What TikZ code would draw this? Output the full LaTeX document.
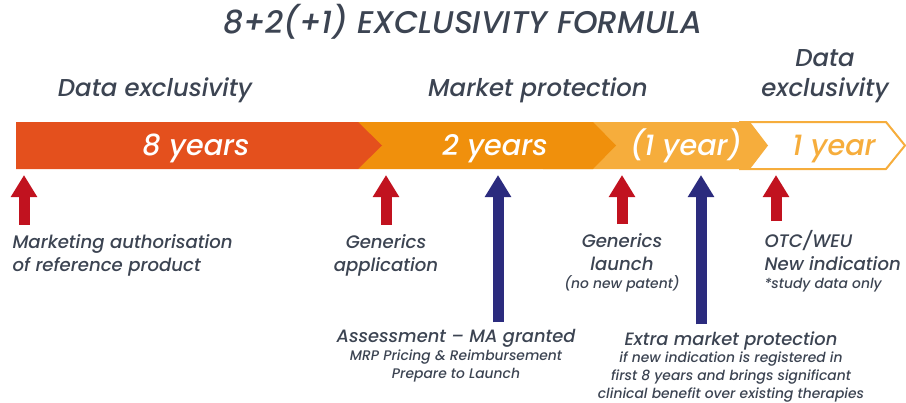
\documentclass[tikz,border=0pt]{standalone}
\usepackage{fontspec}
\setmainfont{Poppins}[ItalicFont={Poppins Medium Italic}]
\usetikzlibrary{arrows.meta}

\definecolor{txtgray}{HTML}{3C4452}
\definecolor{barred}{HTML}{E4501D}
\definecolor{barorange}{HTML}{F0900C}
\definecolor{barlight}{HTML}{F6AD3C}
\definecolor{arrred}{HTML}{C1121F}
\definecolor{arrblue}{HTML}{2B2B7E}

\newcommand{\smalltxtfont}{\itshape\fontsize{10.4}{13}\selectfont}

\tikzset{every picture/.style={line width=0.75pt}}
\tikzset{
  lbl/.style={inner sep=0pt, text=txtgray, font=\itshape\fontsize{13.6}{17.25}\selectfont},
  biglbl/.style={inner sep=0pt, text=txtgray, font=\itshape\fontsize{13.4}{13.2}\selectfont},
  head/.style={inner sep=0pt, text=txtgray, font=\itshape\fontsize{18.3}{22}\selectfont},
  baryears/.style={inner sep=0pt, text=white, font=\itshape\fontsize{21.5}{24}\selectfont},
  upred/.style={draw=arrred, line width=8.25pt, shorten <=6.5pt, -{Triangle[length=16.5pt,width=18.75pt]}},
  upblue/.style={draw=arrblue, line width=8.25pt, shorten <=5pt, -{Triangle[length=16.5pt,width=18.75pt]}},
}

\begin{document}
\begin{tikzpicture}[x=0.75pt,y=0.75pt,yscale=-1,xscale=1]
\useasboundingbox (0,0) rectangle (906,403);

%Shape: Outlined chevron [id:dp1]
\draw [draw=barlight, fill=white, line width=1.5pt] (740,122) -- (886,122) -- (905,145.5) -- (886,169) -- (740,169) -- cycle ;
%Shape: Light chevron [id:dp2]
\fill [barlight] (543,122) -- (750,122) -- (768,145.5) -- (750,169) -- (543,169) -- cycle ;
%Shape: Orange chevron [id:dp3]
\fill [barorange] (358,122) -- (593,122) -- (616,145.5) -- (593,169) -- (358,169) -- cycle ;
%Shape: Red block [id:dp4]
\fill [barred] (16,122) -- (358,122) -- (382,145.5) -- (358,169) -- (16,169) -- cycle ;

% Text Node
\node (title) at (463,34) [anchor=base, inner sep=0pt, text=txtgray, font=\itshape\fontsize{23.5}{28}\selectfont] {8+2(+1) EXCLUSIVITY FORMULA};
% Text Node
\node (hdata) at (155,96) [anchor=base, head] {Data exclusivity};
% Text Node
\node (hmarket) at (538,96) [anchor=base, head] {Market protection};
% Text Node
\node (hdata2) at (825,96) [anchor=base, head, align=center] {Data\\exclusivity};

% Text Node
\node (yr8) at (196,155) [anchor=base, baryears] {8 years};
% Text Node
\node (yr2) at (495,155) [anchor=base, baryears] {2 years};
% Text Node
\node (yr1) at (686,155) [anchor=base, baryears] {(1 year)};
% Text Node
\node (yrx) at (834,155) [anchor=base, baryears, text=barlight] {1 year};

% Text Node
\node (ma) at (12,271) [anchor=base west, lbl, align=left] {Marketing authorisation\\of reference product};
% Text Node
\node (gapp) at (386,271) [anchor=base, lbl, align=center] {Generics\\application};
% Text Node
\node (glaunch) at (622,288) [anchor=base, lbl, align=center] {Generics\\launch\\[-4pt]{\smalltxtfont (no new patent)}};
% Text Node
\node (otc) at (764,288) [anchor=base west, lbl, align=left] {OTC/WEU\\New indication\\[-4pt]{\smalltxtfont *study data only}};
% Text Node
\node (assess) at (456,378) [anchor=base, biglbl, align=center] {Assessment -- MA granted\\{\smalltxtfont MRP Pricing \& Reimbursement}\\{\smalltxtfont Prepare to Launch}};
% Text Node
\node (extra) at (731,398) [anchor=base, biglbl, align=center] {Extra market protection\\{\smalltxtfont if new indication is registered in}\\{\smalltxtfont first 8 years and brings significant}\\{\smalltxtfont clinical benefit over existing therapies}};

% Arrow tips on the bar
\coordinate (tma) at (24,175);
\coordinate (tgapp) at (386,175);
\coordinate (tglaunch) at (622,175);
\coordinate (totc) at (776,175);
\coordinate (tassess) at (498,175);
\coordinate (textra) at (701,175);

%Straight Lines [id:da1]
\draw [upred] (ma.north -| tma) -- (tma) ;
\draw [upred] (gapp.north -| tgapp) -- (tgapp) ;
\draw [upred] (glaunch.north -| tglaunch) -- (tglaunch) ;
\draw [upred] (otc.north -| totc) -- (totc) ;
%Straight Lines [id:da2]
\draw [upblue] (assess.north -| tassess) -- (tassess) ;
\draw [upblue] (extra.north -| textra) -- (textra) ;

\end{tikzpicture}
\end{document}
